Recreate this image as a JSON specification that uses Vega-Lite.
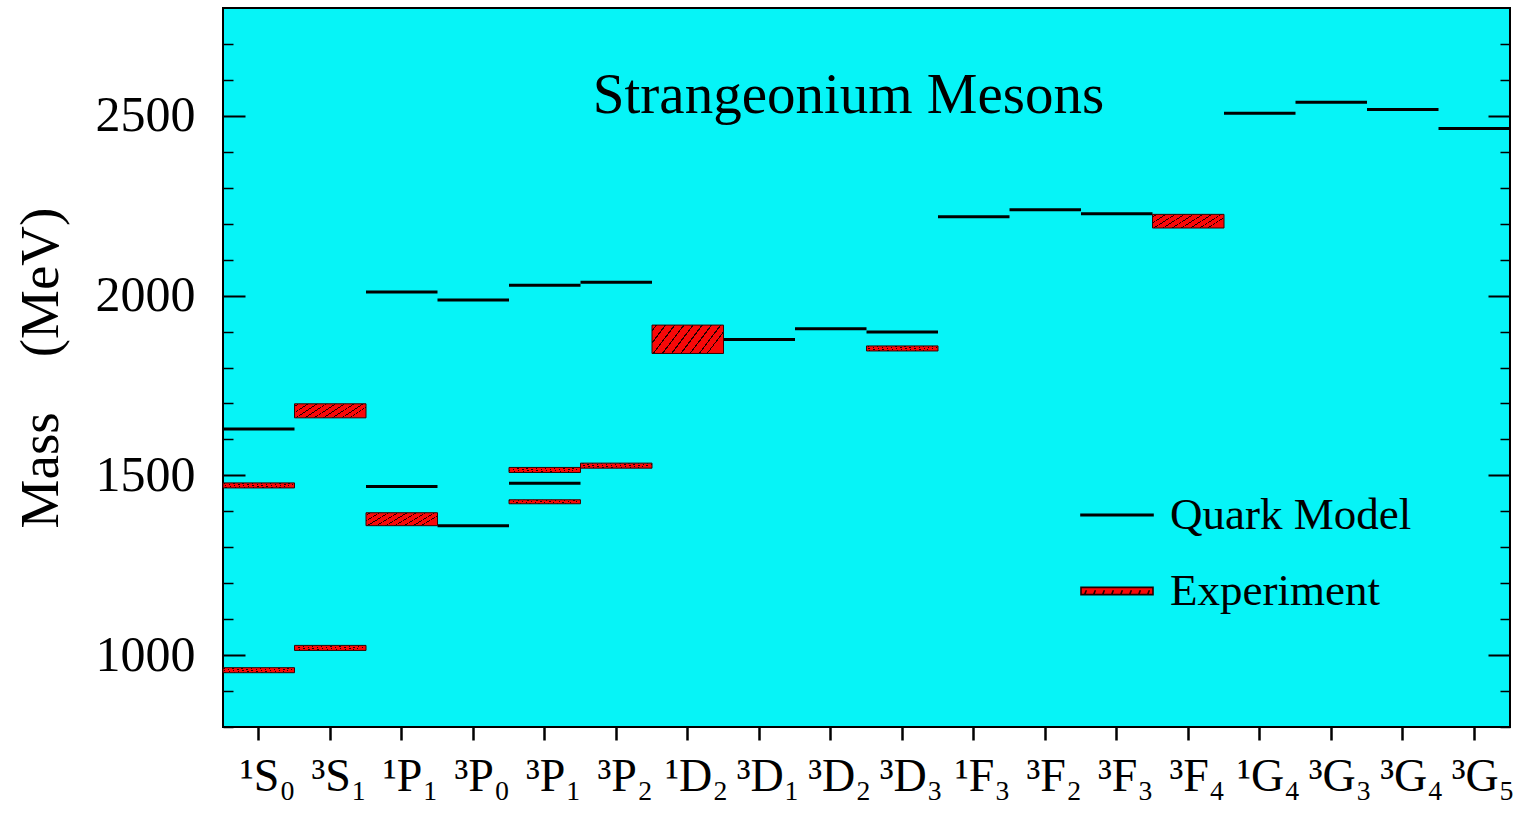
{
  "$schema": "https://vega.github.io/schema/vega-lite/v6.json",
  "width": 1287,
  "height": 719,
  "autosize": {"type": "none"},
  "padding": {"left": 223, "top": 8, "right": 10, "bottom": 86},
  "background": "white",
  "view": {"fill": "#06F4F7", "stroke": "black", "strokeWidth": 2},
  "title": {
    "text": "Strangeonium Mesons",
    "font": "Liberation Serif",
    "fontSize": 57,
    "fontWeight": "normal",
    "color": "black",
    "anchor": "middle",
    "orient": "top",
    "offset": -117,
    "dx": -18
  },
  "config": {
    "view": {"fill": "#06F4F7", "stroke": "black", "strokeWidth": 2},
    "font": "Liberation Serif",
    "axis": {
      "grid": false,
      "domain": false,
      "labelFont": "Liberation Serif",
      "titleFont": "Liberation Serif",
      "labelColor": "black",
      "titleColor": "black",
      "tickColor": "black"
    }
  },
  "datasets": {
    "model": [
      {"term": "¹S₀", "mass": 1629},
      {"term": "¹P₁", "mass": 2010},
      {"term": "¹P₁", "mass": 1469},
      {"term": "³P₀", "mass": 1988},
      {"term": "³P₀", "mass": 1360},
      {"term": "³P₁", "mass": 2029},
      {"term": "³P₁", "mass": 1478},
      {"term": "³P₂", "mass": 2037},
      {"term": "¹D₂", "mass": 1885},
      {"term": "³D₁", "mass": 1878},
      {"term": "³D₂", "mass": 1908},
      {"term": "³D₃", "mass": 1899},
      {"term": "¹F₃", "mass": 2219},
      {"term": "³F₂", "mass": 2239},
      {"term": "³F₃", "mass": 2228},
      {"term": "¹G₄", "mass": 2507},
      {"term": "³G₃", "mass": 2538},
      {"term": "³G₄", "mass": 2518},
      {"term": "³G₅", "mass": 2465}
    ],
    "exp": [
      {"term": "¹S₀", "lo": 951, "hi": 965},
      {"term": "¹S₀", "lo": 1465, "hi": 1479},
      {"term": "³S₁", "lo": 1013, "hi": 1027},
      {"term": "³S₁", "lo": 1660, "hi": 1699},
      {"term": "¹P₁", "lo": 1360, "hi": 1396},
      {"term": "³P₁", "lo": 1421, "hi": 1432},
      {"term": "³P₁", "lo": 1508, "hi": 1522},
      {"term": "³P₂", "lo": 1520, "hi": 1534},
      {"term": "¹D₂", "lo": 1839, "hi": 1918},
      {"term": "³D₃", "lo": 1846, "hi": 1860},
      {"term": "³F₄", "lo": 2188, "hi": 2226}
    ],
    "legend": [
      {"kind": "Quark Model"},
      {"kind": "Experiment"}
    ]
  },
  "encoding": {
    "x": {
      "field": "term",
      "type": "nominal",
      "sort": null,
      "scale": {
        "type": "band",
        "paddingInner": 0,
        "paddingOuter": 0,
        "domain": ["¹S₀", "³S₁", "¹P₁", "³P₀", "³P₁", "³P₂", "¹D₂", "³D₁", "³D₂", "³D₃", "¹F₃", "³F₂", "³F₃", "³F₄", "¹G₄", "³G₃", "³G₄", "³G₅"]
      },
      "axis": {
        "orient": "bottom",
        "title": null,
        "labelAngle": 0,
        "labelFontSize": 46,
        "labelBaseline": "alphabetic",
        "labelAlign": "center",
        "labelOffset": 9,
        "labelPadding": 50,
        "tickSize": 13,
        "tickWidth": 2.5
      }
    }
  },
  "resolve": {"axis": {"y": "independent"}},
  "layer": [
    {
      "data": {"name": "model"},
      "mark": {"type": "bar", "fill": "transparent", "stroke": "black", "strokeWidth": 3},
      "encoding": {
        "y": {
          "field": "mass",
          "type": "quantitative",
          "scale": {"domain": [800, 2800], "nice": false, "zero": false},
          "axis": {
            "orient": "left",
            "values": [1000, 1500, 2000, 2500],
            "format": "d",
            "ticks": false,
            "labelFontSize": 50,
            "labelPadding": 28,
            "labelBaseline": "middle",
            "title": "Mass\u00a0\u00a0\u00a0\u00a0(MeV)",
            "titleFontSize": 55,
            "titleFontWeight": "normal",
            "titlePadding": 26
          }
        },
        "y2": {"field": "mass"}
      }
    },
    {
      "data": {"name": "exp"},
      "mark": {
        "type": "bar",
        "stroke": "#3a0000",
        "strokeWidth": 1,
        "fill": {
          "gradient": "linear",
          "x1": 0, "y1": 0, "x2": 1, "y2": 0.3,
          "stops": [
            {"offset": 0, "color": "#F80808"},
            {"offset": 0.046, "color": "#F80808"}, {"offset": 0.046, "color": "#200000"}, {"offset": 0.064, "color": "#200000"}, {"offset": 0.064, "color": "#F80808"},
            {"offset": 0.164, "color": "#F80808"}, {"offset": 0.164, "color": "#200000"}, {"offset": 0.182, "color": "#200000"}, {"offset": 0.182, "color": "#F80808"},
            {"offset": 0.282, "color": "#F80808"}, {"offset": 0.282, "color": "#200000"}, {"offset": 0.300, "color": "#200000"}, {"offset": 0.300, "color": "#F80808"},
            {"offset": 0.400, "color": "#F80808"}, {"offset": 0.400, "color": "#200000"}, {"offset": 0.418, "color": "#200000"}, {"offset": 0.418, "color": "#F80808"},
            {"offset": 0.518, "color": "#F80808"}, {"offset": 0.518, "color": "#200000"}, {"offset": 0.536, "color": "#200000"}, {"offset": 0.536, "color": "#F80808"},
            {"offset": 0.636, "color": "#F80808"}, {"offset": 0.636, "color": "#200000"}, {"offset": 0.654, "color": "#200000"}, {"offset": 0.654, "color": "#F80808"},
            {"offset": 0.754, "color": "#F80808"}, {"offset": 0.754, "color": "#200000"}, {"offset": 0.772, "color": "#200000"}, {"offset": 0.772, "color": "#F80808"},
            {"offset": 0.872, "color": "#F80808"}, {"offset": 0.872, "color": "#200000"}, {"offset": 0.890, "color": "#200000"}, {"offset": 0.890, "color": "#F80808"},
            {"offset": 0.975, "color": "#F80808"}, {"offset": 0.975, "color": "#200000"}, {"offset": 0.99, "color": "#200000"}, {"offset": 0.99, "color": "#F80808"},
            {"offset": 1, "color": "#F80808"}
          ]
        }
      },
      "encoding": {
        "y": {
          "field": "lo",
          "type": "quantitative",
          "axis": {
            "orient": "left",
            "values": [1000, 1500, 2000, 2500],
            "labels": false,
            "title": null,
            "tickSize": -22,
            "tickWidth": 2
          }
        },
        "y2": {"field": "hi"}
      }
    },
    {
      "data": {"name": "model"},
      "mark": {"type": "bar", "opacity": 0},
      "encoding": {
        "y": {
          "field": "mass",
          "type": "quantitative",
          "axis": {
            "orient": "left",
            "values": [800, 900, 1100, 1200, 1300, 1400, 1600, 1700, 1800, 1900, 2100, 2200, 2300, 2400, 2600, 2700],
            "labels": false,
            "title": null,
            "tickSize": -10,
            "tickWidth": 1.5
          }
        },
        "y2": {"field": "mass"}
      }
    },
    {
      "data": {"name": "model"},
      "mark": {"type": "bar", "opacity": 0},
      "encoding": {
        "y": {
          "field": "mass",
          "type": "quantitative",
          "axis": {
            "orient": "right",
            "values": [1000, 1500, 2000, 2500],
            "labels": false,
            "title": null,
            "tickSize": -22,
            "tickWidth": 2
          }
        },
        "y2": {"field": "mass"}
      }
    },
    {
      "data": {"name": "model"},
      "mark": {"type": "bar", "opacity": 0},
      "encoding": {
        "y": {
          "field": "mass",
          "type": "quantitative",
          "axis": {
            "orient": "right",
            "values": [800, 900, 1100, 1200, 1300, 1400, 1600, 1700, 1800, 1900, 2100, 2200, 2300, 2400, 2600, 2700],
            "labels": false,
            "title": null,
            "tickSize": -10,
            "tickWidth": 1.5
          }
        },
        "y2": {"field": "mass"}
      }
    },
    {
      "data": {"name": "legend"},
      "mark": {"type": "point", "filled": true, "opacity": 1, "size": 0},
      "encoding": {
        "x": null,
        "fill": {
          "field": "kind",
          "type": "nominal",
          "scale": {"domain": ["Quark Model", "Experiment"], "range": ["black", "#F80808"]},
          "legend": {
            "orient": "none",
            "legendX": 857,
            "legendY": 470,
            "title": null,
            "labelFont": "Liberation Serif",
            "labelFontSize": 45,
            "labelColor": "black",
            "labelLimit": 500,
            "labelOffset": 16,
            "symbolSize": 5184,
            "symbolStrokeWidth": 1.6,
            "symbolOpacity": 1,
            "rowPadding": 16,
            "padding": 0
          }
        },
        "stroke": {
          "field": "kind",
          "type": "nominal",
          "scale": {"domain": ["Quark Model", "Experiment"], "range": ["black", "#200000"]}
        },
        "shape": {
          "field": "kind",
          "type": "nominal",
          "scale": {
            "domain": ["Quark Model", "Experiment"],
            "range": [
              "M-1,-0.02H1V0.02H-1Z",
              "M-1,-0.1H1V0.1H-1Z M-0.9,0.1L-0.85,-0.02 M-0.65,0.1L-0.6,-0.02 M-0.4,0.1L-0.35,-0.02 M-0.15,0.1L-0.1,-0.02 M0.1,0.1L0.15,-0.02 M0.35,0.1L0.4,-0.02 M0.6,0.1L0.65,-0.02 M0.85,0.1L0.9,-0.02"
            ]
          }
        }
      }
    }
  ]
}
